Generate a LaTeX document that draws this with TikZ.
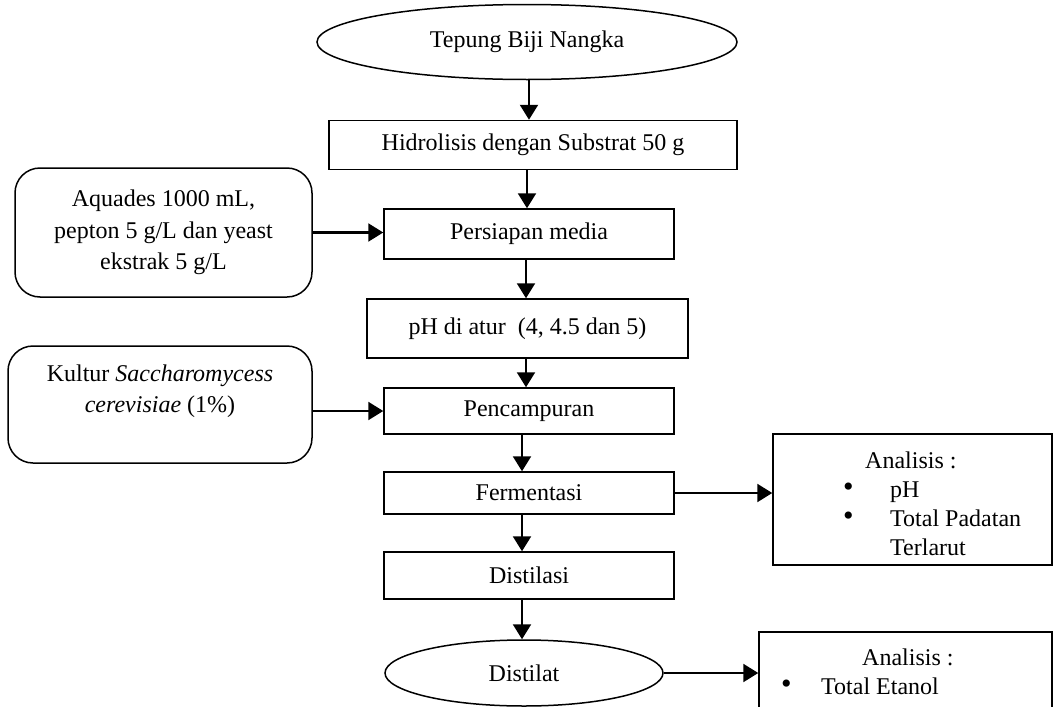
\documentclass[tikz,border=0pt]{standalone}
\usepackage{fontspec}
\setmainfont{Liberation Serif}
\usetikzlibrary{shapes.geometric,arrows.meta}
\newcommand{\bigbul}{\raisebox{1pt}{\fontsize{30}{24}\selectfont\textbullet}}
\begin{document}
\begin{tikzpicture}[x=1pt,y=-1pt,
  base/.style={draw=black,line width=1.5pt,font=\fontsize{24}{29}\selectfont,inner sep=0pt,align=center},
  procbox/.style={base,rectangle},
  endell/.style={base,ellipse},
  inbox/.style={base,rectangle,rounded corners=25pt,font=\fontsize{24}{31.5}\selectfont},
  arr/.style={line width=2.2pt,-{Triangle[length=15pt,width=18pt]}},
  txt/.style={font=\fontsize{24}{29}\selectfont,inner sep=0pt}]
\clip (0,0) rectangle (1053,707);
\node[endell,minimum width=420pt,minimum height=75pt] (e1) at (527,42) {Tepung Biji Nangka};
\node[procbox,minimum width=408pt,minimum height=49pt] (h) at (533,145) {Hidrolisis dengan Substrat 50 g};
\node[inbox,minimum width=297pt,minimum height=129pt] (a1) at (163.5,232.5) {Aquades 1000 mL,\\pepton 5 g/L dan yeast\\ekstrak 5 g/L};
\node[procbox,minimum width=290pt,minimum height=50pt] (p) at (529,234) {Persiapan media};
\node[procbox,minimum width=321pt,minimum height=59pt] (ph) at (527.5,328.5) {pH di atur~ (4, 4.5 dan 5)};
\node[inbox,minimum width=304pt,minimum height=117pt] (k) at (160,404.5) {Kultur \textit{Saccharomycess}\\\textit{cerevisiae} (1\%)\\\mbox{}};
\node[procbox,minimum width=290pt,minimum height=46pt] (pc) at (529,411) {Pencampuran};
\node[procbox,minimum width=290pt,minimum height=42pt] (f) at (529,493) {Fermentasi};
\node[procbox,minimum width=279pt,minimum height=131pt] (an1) at (912.5,499.5) {};
\node[txt,anchor=base west] (an1t) at (843,468) {\begin{tabular}[t]{@{}p{47pt}@{}l@{}}\multicolumn{2}{@{}l@{}}{\hspace{22pt}Analisis :}\\ \bigbul & pH\\ \bigbul & Total Padatan\\ & Terlarut\end{tabular}};
\node[procbox,minimum width=290pt,minimum height=47pt] (d) at (529,575.5) {Distilasi};
\node[endell,minimum width=278pt,minimum height=66pt] (dl) at (524,673) {Distilat};
\node[procbox,minimum width=293pt,minimum height=110pt] (an2) at (905.5,687) {};
\node[txt,anchor=base west] (an2t) at (781,665) {\begin{tabular}[t]{@{}p{40pt}@{}l@{}}\multicolumn{2}{@{}l@{}}{\hspace{81pt}Analisis :}\\ \bigbul & Total Etanol\end{tabular}};
\draw[arr] ([xshift=2pt]e1.south) -- ([xshift=2pt]e1.south |- h.north);
\draw[arr] ([xshift=-6pt]h.south) -- ([xshift=-6pt]h.south |- p.north);
\draw[arr] (a1.east) -- (a1.east -| p.west);
\draw[arr] ([xshift=-3pt]p.south) -- ([xshift=-3pt]p.south |- ph.north);
\draw[arr] ([xshift=-1.5pt]ph.south) -- ([xshift=-1.5pt]ph.south |- pc.north);
\draw[arr] (pc.west -| k.east) -- (pc.west);
\draw[arr] ([xshift=-7pt]pc.south) -- ([xshift=-7pt]pc.south |- f.north);
\draw[arr] (f.east) -- (f.east -| an1.west);
\draw[arr] ([xshift=-7pt]f.south) -- ([xshift=-7pt]f.south |- d.north);
\draw[arr] ([xshift=-7pt]d.south) -- ([xshift=-7pt]d.south |- dl.north);
\draw[arr] (dl.east) -- (dl.east -| an2.west);
\end{tikzpicture}
\end{document}
